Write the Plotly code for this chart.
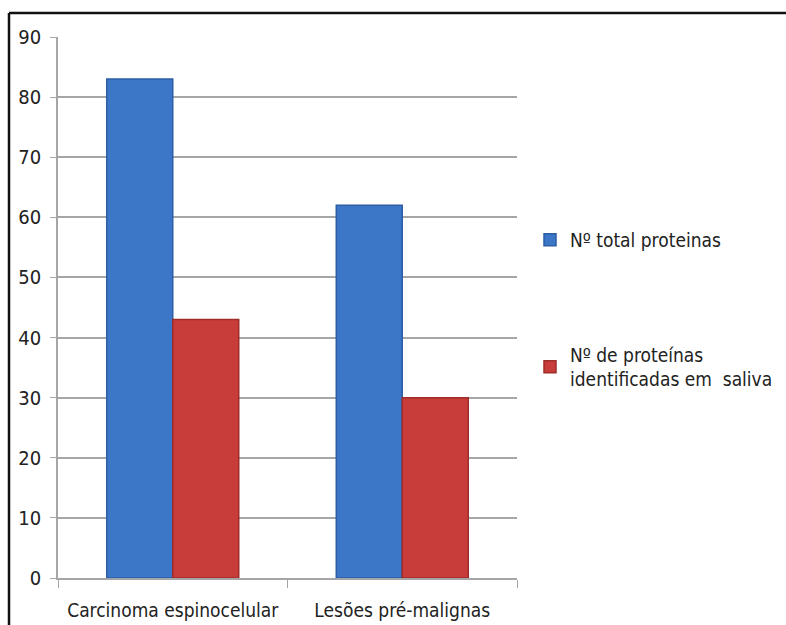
import plotly.graph_objects as go

# Protein counts per lesion type
categories = ["Carcinoma espinocelular", "Lesões pré-malignas"]
total_proteins = [83, 62]
saliva_proteins = [43, 30]
series_names = ["Nº total proteinas", "Nº de proteínas<br>identificadas em  saliva"]
y_ticks = [0, 10, 20, 30, 40, 50, 60, 70, 80, 90]

FONT = "DejaVu Sans Condensed, Roboto, sans-serif"
TXT = "#222222"
BLUE = "#3b77c6"
BLUE_EDGE = "#2d5ea5"
RED = "#c83d39"
RED_EDGE = "#9e2c29"

fig = go.Figure()
fig.add_trace(go.Bar(
    x=categories, y=total_proteins, name=series_names[0],
    marker=dict(color=BLUE, line=dict(color=BLUE_EDGE, width=1.5)),
    legend="legend", showlegend=True,
))
fig.add_trace(go.Bar(
    x=categories, y=saliva_proteins, name=series_names[1],
    marker=dict(color=RED, line=dict(color=RED_EDGE, width=1.5)),
    legend="legend2", showlegend=True,
))

LEG_X = (530 - 58) / 459

fig.update_layout(
    width=786, height=625,
    margin=dict(l=58, r=269, t=37, b=47, autoexpand=False),
    paper_bgcolor="white", plot_bgcolor="white",
    barmode="group", bargap=0.425, bargroupgap=0,
    showlegend=True,
    font=dict(family=FONT, size=19, color=TXT),
    legend=dict(
        visible=True,
        x=LEG_X, y=(578 - 240) / 541, xanchor="left", yanchor="middle",
        font=dict(family=FONT, size=19, color=TXT),
        bgcolor="rgba(0,0,0,0)", itemwidth=30,
    ),
    legend2=dict(
        visible=True,
        x=LEG_X, y=(578 - 367) / 541, xanchor="left", yanchor="middle",
        font=dict(family=FONT, size=19, color=TXT),
        bgcolor="rgba(0,0,0,0)", itemwidth=30,
    ),
    xaxis=dict(
        showline=True, linecolor="#a6a6a6", linewidth=1.5,
        ticks="outside", tickson="boundaries", ticklen=8, tickcolor="#a6a6a6",
        tickfont=dict(family=FONT, size=19, color=TXT),
        tickangle=0, automargin=False, ticklabelstandoff=14,
        showgrid=False,
    ),
    yaxis=dict(
        range=[0, 90], tickvals=y_ticks,
        showline=True, linecolor="#a6a6a6", linewidth=1.5,
        ticks="outside", ticklen=6, tickcolor="#a6a6a6",
        showgrid=True, gridcolor="#a6a6a6", gridwidth=1.5,
        zeroline=False, automargin=False, ticklabelstandoff=5,
        tickfont=dict(family=FONT, size=20, color=TXT),
    ),
    shapes=[
        # outer frame: top and left edges
        dict(type="line", xref="paper", yref="paper",
             x0=(9 - 58) / 459, x1=(786 - 58) / 459,
             y0=(578 - 13) / 541, y1=(578 - 13) / 541,
             line=dict(color="#111111", width=2.5)),
        dict(type="line", xref="paper", yref="paper",
             x0=(9 - 58) / 459, x1=(9 - 58) / 459,
             y0=(578 - 13) / 541, y1=(578 - 630) / 541,
             line=dict(color="#111111", width=2.5)),
    ],
)

fig.write_html("out.html")
